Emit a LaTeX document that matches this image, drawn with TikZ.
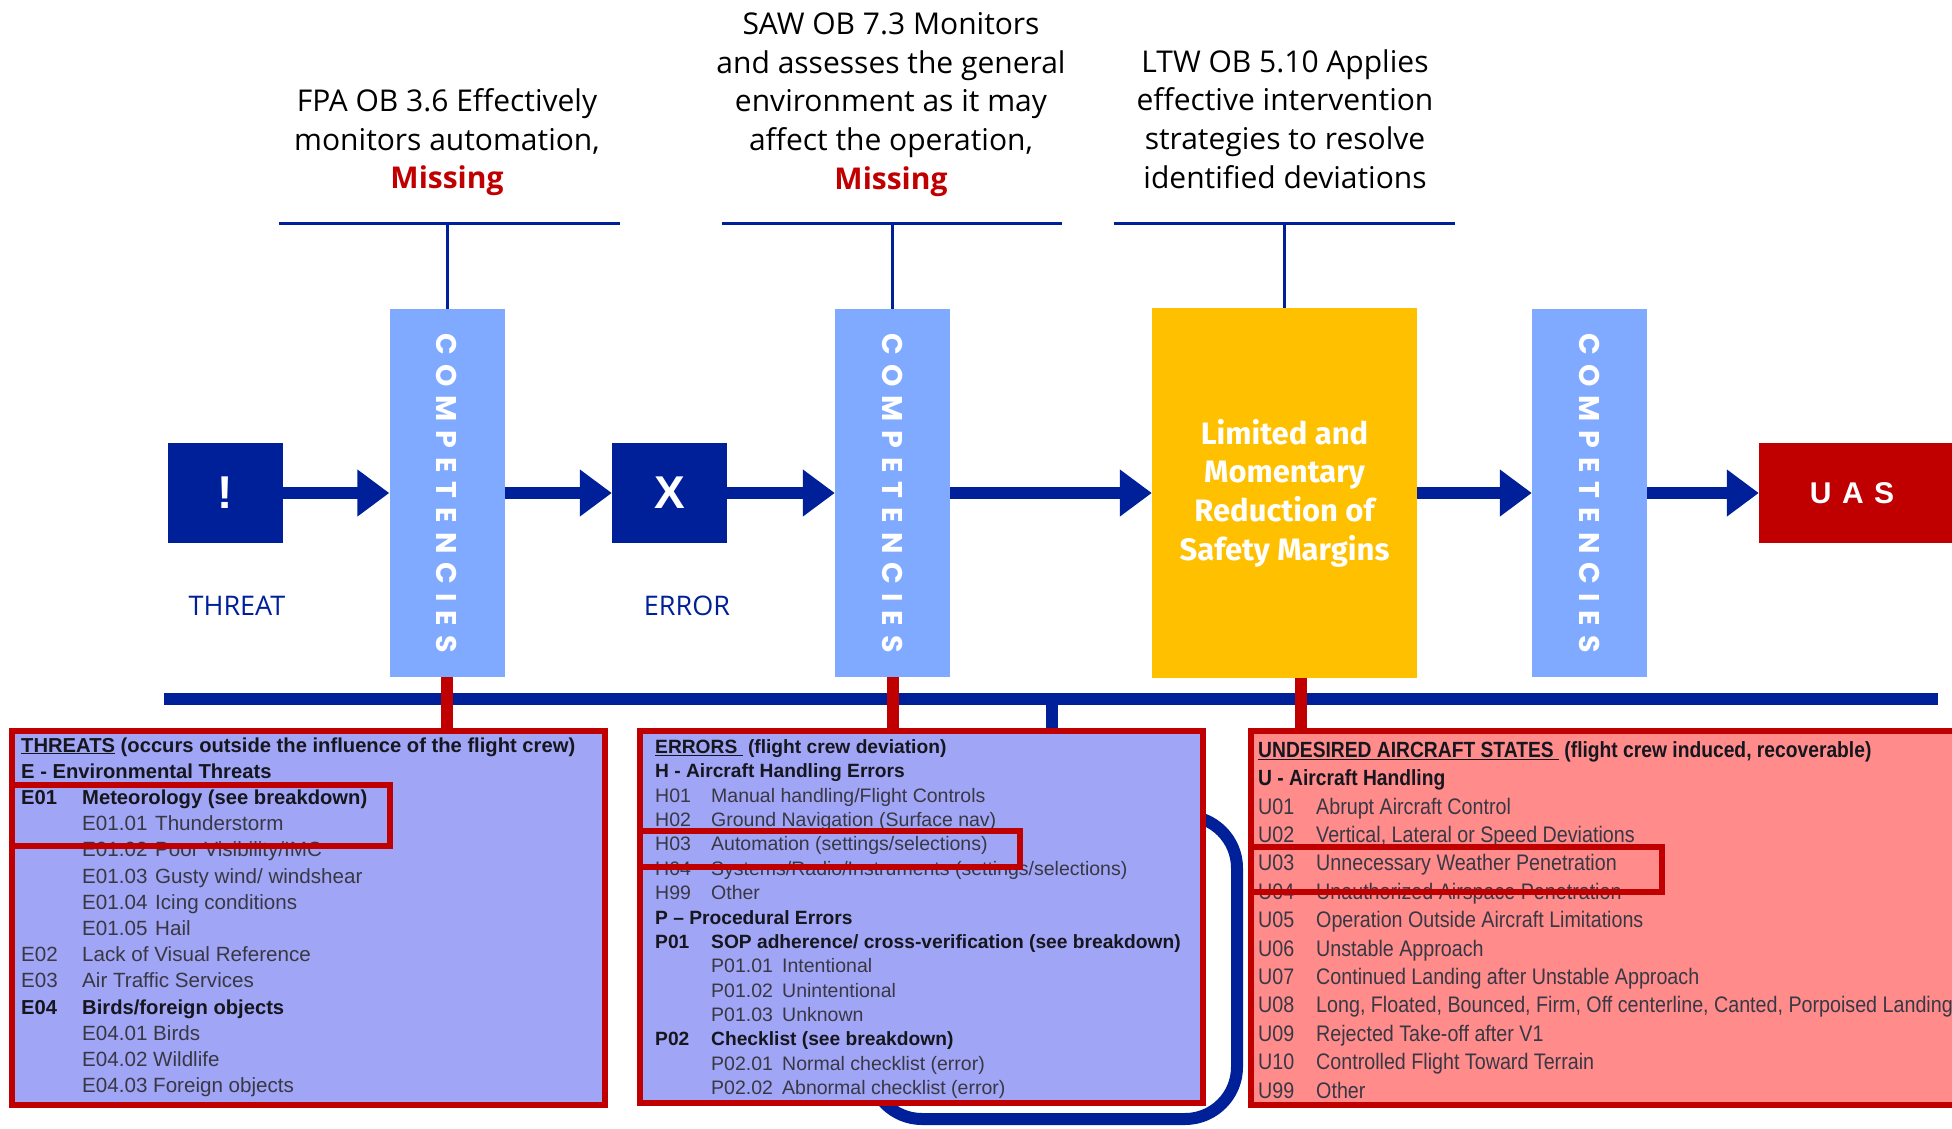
\documentclass[tikz,border=0pt]{standalone}
\usepackage{fontspec}
\setmainfont{Liberation Sans}
\newfontfamily\topfont{Open Sans}
\newfontfamily\popfont{Poppins}
\newfontfamily\firafont{Fira Sans}
\newfontfamily\narrowfont[FakeStretch=0.875]{Liberation Sans}
\usetikzlibrary{arrows.meta}
\definecolor{navy}{RGB}{0,32,154}
\definecolor{compblue}{RGB}{127,170,255}
\definecolor{amber}{RGB}{255,192,0}
\definecolor{darkred}{RGB}{192,0,0}
\definecolor{lav}{RGB}{161,165,245}
\definecolor{salmon}{RGB}{255,139,139}
\definecolor{txtgray}{RGB}{56,56,68}
\definecolor{txtdark}{RGB}{22,22,30}
\newlength\cgap
\setlength\cgap{9pt}
\newcommand\compword{C\kern\cgap O\kern\cgap M\kern\cgap P\kern\cgap E\kern\cgap T\kern\cgap E\kern\cgap N\kern\cgap C\kern\cgap I\kern\cgap E\kern\cgap S}
\tikzset{
  toptext/.style={align=center, inner sep=0pt, font=\topfont\fontsize{30}{38.6}\selectfont},
  bracket/.style={draw=navy, line width=3pt},
  darkbox/.style={fill=navy, minimum width=115pt, minimum height=100pt, inner sep=0pt, text=white, font=\bfseries\fontsize{46}{46}\selectfont},
  compbox/.style={fill=compblue, minimum width=115pt, minimum height=368pt, inner sep=0pt},
  comptext/.style={rotate=-90, inner sep=0pt, text=white, font=\popfont\bfseries\fontsize{28.5}{28.5}\selectfont},
  lbl/.style={inner sep=0pt, text=navy, font=\topfont\fontsize{27}{27}\selectfont},
  flow/.style={draw=navy, line width=12pt, -{Triangle[length=32pt,width=45pt]}},
  lavbox/.style={fill=lav, draw=darkred, line width=6pt, inner sep=0pt},
  salbox/.style={fill=salmon, draw=darkred, line width=6pt, inner sep=0pt},
  hl/.style={draw=darkred, line width=6pt},
  redlink/.style={draw=darkred, line width=12pt},
  bluelink/.style={draw=navy, line width=12pt},
  tn/.style={anchor=base west, inner sep=0pt, text=txtgray, font=\fontsize{20.6}{24}\selectfont},
  tb/.style={tn, text=txtdark, font=\fontsize{20.2}{24}\selectfont\bfseries},
  en/.style={anchor=base west, inner sep=0pt, text=txtgray, font=\fontsize{19.5}{23}\selectfont},
  eb/.style={en, text=txtdark, font=\fontsize{19.2}{23}\selectfont\bfseries},
  un/.style={anchor=base west, inner sep=0pt, text=txtgray, font=\narrowfont\fontsize{22.5}{27}\selectfont},
  ub/.style={un, text=txtdark, font=\narrowfont\fontsize{22}{27}\selectfont\bfseries},
}
\begin{document}
\begin{tikzpicture}[x=1pt,y=-1pt]
\useasboundingbox (0,0) rectangle (1952,1128);
\clip (0,0) rectangle (1952,1128);

% top texts
\node[toptext] (fpa) at (447,142.5) {FPA OB 3.6 Effectively\\monitors automation,\\\textcolor{darkred}{\bfseries Missing}};
\node[toptext] (saw) at (891,104.5) {SAW OB 7.3 Monitors\\and assesses the general\\environment as it may\\affect the operation,\\\textcolor{darkred}{\bfseries Missing}};
\node[toptext] (ltw) at (1285,119) {LTW OB 5.10 Applies\\effective intervention\\strategies to resolve\\identified deviations};

% main chain boxes
\node[darkbox] (threat) at (225.5,493) {!};
\node[compbox] (C1) at (447,493) {};
\node[comptext] (C1t) at (C1.center) {\compword};
\node[darkbox] (err) at (669.5,493) {X};
\node[compbox] (C2) at (892.5,493) {};
\node[comptext] (C2t) at (C2.center) {\compword};
\node[fill=amber, minimum width=265pt, minimum height=370pt, inner sep=0pt] (yel) at (1284.5,493) {};
\node[align=center, inner sep=0pt, text=white, font=\firafont\bfseries\fontsize{31}{38.7}\selectfont] (yelt) at (yel.center) {Limited and\\Momentary\\Reduction of\\Safety Margins};
\node[compbox] (C3) at (1589.5,493) {};
\node[comptext] (C3t) at (C3.center) {\compword};
\node[fill=darkred, minimum width=250pt, minimum height=100pt, inner sep=0pt] (uas) at (1884,493) {};
\node[inner sep=0pt, text=white, font=\bfseries\fontsize{30}{30}\selectfont] (uast) at (1852,493) {U\kern10.5pt A\kern10.5pt S};

\node[lbl] (thrl) at (237,606) {THREAT};
\node[lbl] (errl) at (687,606) {ERROR};

% brackets
\coordinate (fpaL) at (279,223); \coordinate (fpaR) at (620,223);
\coordinate (sawL) at (722,223); \coordinate (sawR) at (1062,223);
\coordinate (ltwL) at (1114,223); \coordinate (ltwR) at (1455,223);
\draw[bracket] (fpaL) -- (fpaR);
\draw[bracket] (C1.north |- fpaL) -- (C1.north);
\draw[bracket] (sawL) -- (sawR);
\draw[bracket] (C2.north |- sawL) -- (C2.north);
\draw[bracket] (ltwL) -- (ltwR);
\draw[bracket] (yel.north |- ltwL) -- (yel.north);

% flow arrows
\draw[flow] (threat.east) -- (C1.west);
\draw[flow] (C1.east) -- (err.west);
\draw[flow] (err.east) -- (C2.west);
\draw[flow] (C2.east) -- (yel.west);
\draw[flow] (yel.east) -- (C3.west);
\draw[flow] (C3.east) -- (uas.west);

% bar
\coordinate (barL) at (164,699); \coordinate (barR) at (1938,699);
\draw[bluelink] (barL) -- (barR);
\coordinate (stub) at (1052,699);

% rounded blue frame behind errors
\draw[navy, line width=12pt, rounded corners=52pt] (870,816) rectangle (1237,1119);

% category boxes
\node[lavbox, minimum width=593pt, minimum height=374pt] (thrbox) at (308.5,918) {};
\node[lavbox, minimum width=563pt, minimum height=372pt] (errbox) at (921.5,917) {};
\node[salbox, minimum width=739pt, minimum height=374pt] (uasbox) at (1620.5,918) {};

\draw[bluelink] (stub) -- (stub |- errbox.north);

% threats text
\node[tb] (t1) at (21,752) {\underline{THREATS} (occurs outside the influence of the flight crew)};
\node[tb] (t2) at (21,778.2) {E - Environmental Threats};
\node[tb] (t3c) at (21,804.4) {E01}; \node[tb] (t3d) at (82,804.4) {Meteorology (see breakdown)};
\node[tn] (t4c) at (82,830.6) {E01.01}; \node[tn] (t4d) at (155,830.6) {Thunderstorm};
\node[tn] (t5c) at (82,856.8) {E01.02}; \node[tn] (t5d) at (155,856.8) {Poor Visibility/IMC};
\node[tn] (t6c) at (82,883) {E01.03}; \node[tn] (t6d) at (155,883) {Gusty wind/ windshear};
\node[tn] (t7c) at (82,909.2) {E01.04}; \node[tn] (t7d) at (155,909.2) {Icing conditions};
\node[tn] (t8c) at (82,935.4) {E01.05}; \node[tn] (t8d) at (155,935.4) {Hail};
\node[tn] (t9c) at (21,961.6) {E02}; \node[tn] (t9d) at (82,961.6) {Lack of Visual Reference};
\node[tn] (t10c) at (21,987.8) {E03}; \node[tn] (t10d) at (82,987.8) {Air Traffic Services};
\node[tb] (t11c) at (21,1014) {E04}; \node[tb] (t11d) at (82,1014) {Birds/foreign objects};
\node[tn] (t12c) at (82,1040.2) {E04.01}; \node[tn] (t12d) at (153,1040.2) {Birds};
\node[tn] (t13c) at (82,1066.4) {E04.02}; \node[tn] (t13d) at (153,1066.4) {Wildlife};
\node[tn] (t14c) at (82,1092.6) {E04.03}; \node[tn] (t14d) at (153,1092.6) {Foreign objects};

% errors text
\node[eb] (e1) at (655,753.5) {\underline{ERRORS\ } (flight crew deviation)};
\node[eb] (e2) at (655,777.9) {H - Aircraft Handling Errors};
\node[en] (e3c) at (655,802.2) {H01}; \node[en] (e3d) at (711,802.2) {Manual handling/Flight Controls};
\node[en] (e4c) at (655,826.6) {H02}; \node[en] (e4d) at (711,826.6) {Ground Navigation (Surface nav)};
\node[en] (e5c) at (655,850.9) {H03}; \node[en] (e5d) at (711,850.9) {Automation (settings/selections)};
\node[en] (e6c) at (655,875.3) {H04}; \node[en] (e6d) at (711,875.3) {Systems/Radio/Instruments (settings/selections)};
\node[en] (e7c) at (655,899.7) {H99}; \node[en] (e7d) at (711,899.7) {Other};
\node[eb] (e8) at (655,924) {P – Procedural Errors};
\node[eb] (e9c) at (655,948.4) {P01}; \node[eb] (e9d) at (711,948.4) {SOP adherence/ cross-verification (see breakdown)};
\node[en] (e10c) at (711,972.7) {P01.01}; \node[en] (e10d) at (782,972.7) {Intentional};
\node[en] (e11c) at (711,997.1) {P01.02}; \node[en] (e11d) at (782,997.1) {Unintentional};
\node[en] (e12c) at (711,1021.5) {P01.03}; \node[en] (e12d) at (782,1021.5) {Unknown};
\node[eb] (e13c) at (655,1045.8) {P02}; \node[eb] (e13d) at (711,1045.8) {Checklist (see breakdown)};
\node[en] (e14c) at (711,1070.2) {P02.01}; \node[en] (e14d) at (782,1070.2) {Normal checklist (error)};
\node[en] (e15c) at (711,1094.5) {P02.02}; \node[en] (e15d) at (782,1094.5) {Abnormal checklist (error)};

% undesired states text
\node[ub] (u1) at (1258,757.3) {\underline{UNDESIRED AIRCRAFT STATES\ } (flight crew induced, recoverable)};
\node[ub] (u2) at (1258,785.7) {U - Aircraft Handling};
\node[un] (u3c) at (1258,814.1) {U01}; \node[un] (u3d) at (1316,814.1) {Abrupt Aircraft Control};
\node[un] (u4c) at (1258,842.5) {U02}; \node[un] (u4d) at (1316,842.5) {Vertical, Lateral or Speed Deviations};
\node[un] (u5c) at (1258,870.9) {U03}; \node[un] (u5d) at (1316,870.9) {Unnecessary Weather Penetration};
\node[un] (u6c) at (1258,899.3) {U04}; \node[un] (u6d) at (1316,899.3) {Unauthorized Airspace Penetration};
\node[un] (u7c) at (1258,927.7) {U05}; \node[un] (u7d) at (1316,927.7) {Operation Outside Aircraft Limitations};
\node[un] (u8c) at (1258,956.1) {U06}; \node[un] (u8d) at (1316,956.1) {Unstable Approach};
\node[un] (u9c) at (1258,984.5) {U07}; \node[un] (u9d) at (1316,984.5) {Continued Landing after Unstable Approach};
\node[un] (u10c) at (1258,1012.9) {U08}; \node[un] (u10d) at (1316,1012.9) {Long, Floated, Bounced, Firm, Off centerline, Canted, Porpoised Landing};
\node[un] (u11c) at (1258,1041.3) {U09}; \node[un] (u11d) at (1316,1041.3) {Rejected Take-off after V1};
\node[un] (u12c) at (1258,1069.7) {U10}; \node[un] (u12d) at (1316,1069.7) {Controlled Flight Toward Terrain};
\node[un] (u13c) at (1258,1098.1) {U99}; \node[un] (u13d) at (1316,1098.1) {Other};

% highlights
\draw[hl] (12,785) rectangle (390,846);
\draw[hl] (640,831) rectangle (1020,867);
\draw[hl] (1251,847) rectangle (1662,892);

% red links
\coordinate (ys) at ([xshift=16pt]yel.south);
\draw[redlink] (C1.south) -- (C1.south |- thrbox.north);
\draw[redlink] (C2.south) -- (C2.south |- errbox.north);
\draw[redlink] (ys) -- (ys |- uasbox.north);
\end{tikzpicture}
\end{document}
